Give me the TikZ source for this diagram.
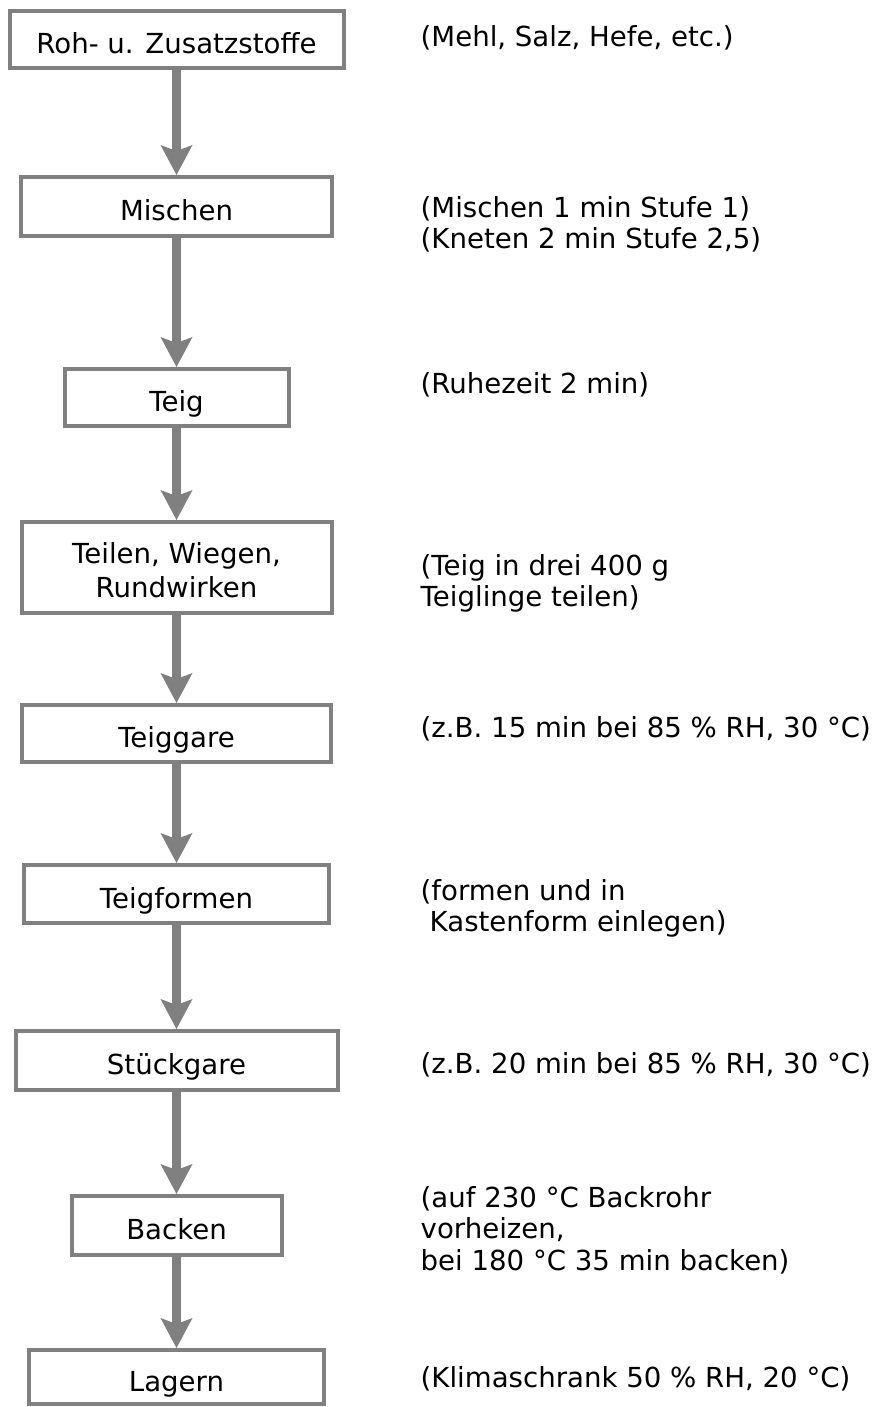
\documentclass[tikz,border=0pt]{standalone}
\usepackage{fontspec}
\setmainfont{DejaVu Sans}
\usetikzlibrary{arrows.meta}
\definecolor{boxgray}{RGB}{128,128,128}
\newcommand\mylines[1]{\begin{tabular}[t]{@{}l@{}}#1\end{tabular}}
\newcommand\mycenter[1]{\begin{tabular}[t]{@{}c@{}}#1\end{tabular}}
\tikzset{
  stepbox/.style={draw=boxgray, line width=4pt, fill=white, inner sep=0pt,
    text height=28pt, text depth=0pt, align=center},
  flow/.style={draw=boxgray, line width=9pt,
    -{Stealth[length=30pt,width=32pt,inset=6pt,line width=0pt]}},
  note/.style={anchor=base west, inner sep=0pt, align=left},
}
\begin{document}
\begin{tikzpicture}[x=1pt, y=-1pt, font=\fontsize{27.6}{31.5}\selectfont]
\useasboundingbox (0,0) rectangle (884,1407);
% boxes
\node[stepbox, minimum width=334pt, minimum height=57pt] (b1) at (176.5,39.5) {Roh- u. Zusatzstoffe};
\node[stepbox, minimum width=311pt, minimum height=59pt] (b2) at (176.5,206.5) {Mischen};
\node[stepbox, minimum width=224pt, minimum height=57pt] (b3) at (176.5,397.5) {Teig};
\node[stepbox, minimum width=310pt, minimum height=91pt, text height=0pt, text depth=9pt] (b4) at (176.5,567.5)
  {\mycenter{Teilen, Wiegen,\\[3pt]Rundwirken}};
\node[stepbox, minimum width=309pt, minimum height=57pt] (b5) at (176.5,733.5) {Teiggare};
\node[stepbox, minimum width=305pt, minimum height=58pt] (b6) at (176.5,894) {Teigformen};
\node[stepbox, minimum width=322pt, minimum height=59pt] (b7) at (176.5,1060.5) {Stückgare};
\node[stepbox, minimum width=210pt, minimum height=59pt] (b8) at (176.5,1225.5) {Backen};
\node[stepbox, minimum width=295pt, minimum height=54pt] (b9) at (176.5,1377) {Lagern};
% arrows
\foreach \a/\b in {b1/b2,b2/b3,b3/b4,b4/b5,b5/b6,b6/b7,b7/b8,b8/b9}
  \draw[flow] (\a.south) -- (\b.north);
% notes
\node[note] (n1) at (420.5,47) {(Mehl, Salz, Hefe, etc.)};
\node[note] (n2) at (420.5,217) {\mylines{(Mischen 1 min Stufe 1)\\(Kneten 2 min Stufe 2,5)}};
\node[note] (n3) at (420.5,393) {(Ruhezeit 2 min)};
\node[note] (n4) at (420.5,575) {\mylines{(Teig in drei 400 g\\Teiglinge teilen)}};
\node[note] (n5) at (420.5,737) {(z.B. 15 min bei 85 \% RH, 30 °C)};
\node[note] (n6) at (420.5,900) {\mylines{(formen und in\\\hspace*{9pt}Kastenform einlegen)}};
\node[note] (n7) at (420.5,1073) {(z.B. 20 min bei 85 \% RH, 30 °C)};
\node[note] (n8) at (420.5,1207) {\mylines{(auf 230 °C Backrohr\\vorheizen,\\bei 180 °C 35 min backen)}};
\node[note] (n9) at (420.5,1387) {(Klimaschrank 50 \% RH, 20 °C)};
\end{tikzpicture}
\end{document}
